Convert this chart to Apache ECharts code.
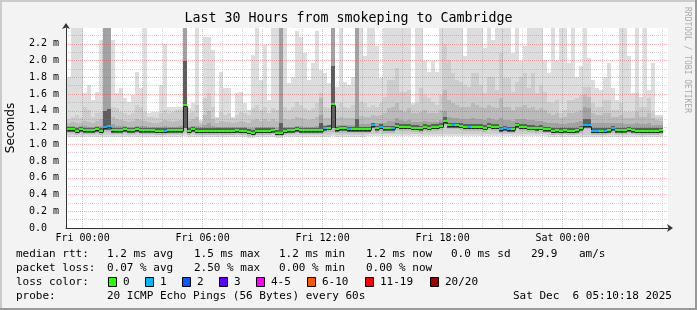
<!DOCTYPE html>
<html><head><meta charset="utf-8">
<script src="https://cdn.jsdelivr.net/npm/echarts@6/dist/echarts.min.js"></script>
<style>html,body{margin:0;padding:0;background:#f3f3f3}#c{width:697px;height:310px}</style>
</head><body><div id="c"></div>
<script>
// ---- time bins: 12-minute consolidated columns, hours relative to Fri 00:00 ----
const BIN_START = -0.8;   // Thu 23:12
const BIN_HOURS = 0.2;    // 12 min
// ---- median RTT per bin (ms) ----
const med = [1.18,1.18,1.16,1.18,1.17,1.17,1.17,1.18,1.16,1.21,
 1.22,1.17,1.17,1.17,1.18,1.17,1.17,1.18,1.17,1.17,
 1.17,1.17,1.16,1.16,1.16,1.17,1.17,1.17,1.17,1.47,
 1.16,1.18,1.16,1.16,1.16,1.16,1.16,1.16,1.16,1.16,
 1.16,1.16,1.17,1.16,1.16,1.15,1.14,1.16,1.16,1.16,
 1.16,1.17,1.14,1.14,1.16,1.17,1.17,1.18,1.17,1.17,
 1.17,1.17,1.17,1.17,1.19,1.20,1.48,1.18,1.19,1.19,
 1.18,1.18,1.18,1.18,1.18,1.18,1.23,1.19,1.21,1.19,
 1.19,1.19,1.22,1.21,1.21,1.21,1.20,1.20,1.19,1.21,
 1.20,1.21,1.21,1.22,1.28,1.23,1.23,1.23,1.22,1.21,
 1.21,1.21,1.21,1.21,1.20,1.22,1.21,1.21,1.18,1.19,
 1.18,1.18,1.23,1.21,1.21,1.20,1.20,1.19,1.20,1.18,
 1.18,1.16,1.17,1.16,1.17,1.16,1.16,1.17,1.19,1.23,
 1.23,1.16,1.16,1.16,1.16,1.17,1.19,1.17,1.17,1.17,
 1.18,1.17,1.16,1.16,1.16,1.16,1.16,1.16,1.17];
// ---- lost pings per bin (0 or 1) ----
const loss = [0,0,0,0,0,0,0,0,0,1, 1,0,0,0,0,0,0,0,0,0, 0,0,0,0,1,0,0,0,0,0,
 0,0,0,0,0,0,0,0,0,0, 0,0,0,0,0,0,0,0,0,0, 0,0,0,0,0,0,0,0,0,0,
 0,0,0,0,1,0,0,0,0,0, 1,0,0,0,0,0,1,0,1,0, 0,1,0,0,0,0,0,0,0,0,
 0,0,0,0,0,0,1,0,0,0, 1,0,0,0,0,0,0,0,1,1, 1,0,0,0,0,0,0,0,0,0,
 0,0,0,0,0,0,0,0,0,1, 1,1,1,0,1,0,1,0,0,0, 0,0,0,0,0,0,0,0,0];
// ---- smoke: upper edges of the bands (outer -> inner), ms ----
const t1 = [1.81,2.39,2.39,2.39,1.61,1.71,1.53,1.63,2.25,2.39,
 2.39,2.25,1.61,1.67,1.55,1.51,1.59,1.87,1.67,2.39,
 1.37,1.39,1.39,1.71,2.20,1.45,1.45,1.45,1.45,2.39,
 1.43,1.49,2.39,1.29,2.28,2.28,2.13,1.33,1.87,1.67,
 1.67,1.33,1.61,1.63,1.49,1.41,2.07,2.39,1.77,2.19,
 1.53,2.39,2.39,2.39,2.39,1.73,1.81,2.36,2.28,2.09,
 1.77,1.97,2.35,1.89,1.85,1.73,2.39,1.69,2.39,1.75,
 1.71,1.81,2.39,2.39,2.05,2.39,2.39,2.17,1.79,2.39,
 2.39,2.39,2.39,2.39,2.39,2.39,1.49,2.39,2.39,2.00,
 1.87,2.00,1.87,2.39,2.39,2.39,2.39,2.39,2.39,2.05,
 2.39,2.39,2.39,2.39,2.15,2.39,2.25,2.39,2.39,2.39,
 2.39,2.09,2.39,1.99,2.17,2.39,2.39,2.39,2.39,2.01,
 1.85,2.39,1.99,2.39,2.39,1.97,2.39,1.81,1.93,2.39,
 2.03,1.77,1.67,1.65,1.81,1.97,1.67,1.53,2.39,2.39,
 2.05,1.61,2.39,1.57,2.39,1.65,1.97,1.35,1.35];
const t2 = [1.30,1.33,1.35,1.31,1.45,1.41,1.33,1.37,1.39,2.39,
 2.39,1.45,1.43,1.39,1.37,1.35,1.37,1.47,1.45,1.39,
 1.33,1.33,1.31,1.37,1.41,1.37,1.39,1.41,1.41,2.39,
 1.37,1.39,1.47,1.27,1.55,1.61,1.45,1.31,1.39,1.35,
 1.37,1.31,1.35,1.39,1.37,1.35,1.43,1.47,1.41,1.45,
 1.37,1.43,1.41,2.39,1.45,1.41,1.45,1.51,1.47,1.43,
 1.41,1.43,1.49,1.61,1.45,1.43,2.39,1.43,1.49,1.45,
 1.43,1.47,2.39,1.51,1.49,1.45,1.47,1.45,1.49,1.57,
 1.77,1.77,1.91,1.63,1.63,1.65,1.47,1.49,1.67,1.59,
 1.55,1.51,1.47,1.59,2.20,2.01,1.85,1.77,1.75,1.71,
 1.69,1.85,1.85,1.71,1.61,1.81,1.81,1.65,2.09,1.79,
 1.79,1.63,1.75,1.81,1.85,1.67,1.85,1.61,1.71,1.63,
 1.51,1.49,1.53,1.37,1.41,1.53,1.53,1.55,1.59,1.69,
 1.69,1.49,1.45,1.45,1.53,1.53,1.41,1.41,1.49,1.39,
 1.39,1.39,1.61,1.45,1.45,1.55,1.39,1.33,1.33];
const t3 = [1.26,1.27,1.26,1.25,1.28,1.27,1.26,1.28,1.30,2.39,
 2.39,1.33,1.30,1.29,1.28,1.27,1.28,1.30,1.29,1.28,
 1.27,1.26,1.26,1.27,1.29,1.28,1.27,1.28,1.29,2.39,
 1.28,1.30,1.33,1.24,1.35,1.40,1.30,1.26,1.28,1.27,
 1.27,1.26,1.27,1.28,1.27,1.26,1.29,1.30,1.28,1.30,
 1.28,1.30,1.28,2.39,1.30,1.29,1.30,1.33,1.31,1.30,
 1.29,1.30,1.33,1.55,1.32,1.31,2.39,1.31,1.33,1.32,
 1.31,1.32,2.39,1.34,1.33,1.33,1.35,1.34,1.35,1.37,
 1.43,1.45,1.49,1.41,1.39,1.43,1.37,1.37,1.39,1.41,
 1.37,1.37,1.37,1.41,1.65,1.53,1.49,1.47,1.45,1.45,
 1.45,1.49,1.47,1.45,1.43,1.47,1.45,1.43,1.55,1.45,
 1.45,1.41,1.45,1.45,1.47,1.43,1.45,1.41,1.43,1.41,
 1.37,1.35,1.37,1.31,1.33,1.37,1.38,1.39,1.41,1.59,
 1.57,1.37,1.35,1.35,1.37,1.37,1.33,1.33,1.35,1.31,
 1.31,1.31,1.39,1.33,1.33,1.37,1.31,1.29,1.28];
const t4 = [1.22,1.22,1.21,1.22,1.22,1.21,1.21,1.22,1.22,2.39,
 2.39,1.24,1.22,1.22,1.22,1.21,1.21,1.22,1.22,1.22,
 1.21,1.21,1.21,1.21,1.22,1.21,1.21,1.21,1.22,2.39,
 1.21,1.22,1.22,1.21,1.23,1.25,1.22,1.21,1.21,1.21,
 1.21,1.21,1.21,1.21,1.21,1.20,1.20,1.21,1.21,1.21,
 1.21,1.21,1.20,2.39,1.21,1.21,1.21,1.22,1.22,1.21,
 1.21,1.21,1.22,1.35,1.23,1.23,2.39,1.23,1.23,1.23,
 1.23,1.23,2.39,1.24,1.24,1.24,1.26,1.25,1.26,1.26,
 1.28,1.28,1.31,1.29,1.28,1.29,1.27,1.27,1.27,1.28,
 1.27,1.27,1.27,1.29,1.40,1.33,1.32,1.31,1.30,1.30,
 1.30,1.31,1.30,1.30,1.29,1.31,1.30,1.29,1.32,1.29,
 1.29,1.28,1.30,1.30,1.30,1.29,1.29,1.28,1.28,1.27,
 1.26,1.25,1.25,1.24,1.24,1.25,1.26,1.27,1.28,1.45,
 1.43,1.26,1.25,1.25,1.26,1.26,1.25,1.25,1.25,1.24,
 1.24,1.24,1.26,1.24,1.24,1.25,1.23,1.23,1.23];
const t5 = [1.21,1.21,1.19,1.21,1.20,1.20,1.20,1.21,1.19,1.40,
 1.42,1.20,1.20,1.20,1.21,1.20,1.20,1.21,1.20,1.20,
 1.20,1.20,1.19,1.19,1.19,1.20,1.20,1.20,1.20,2.00,
 1.19,1.21,1.19,1.19,1.19,1.19,1.19,1.19,1.19,1.19,
 1.19,1.19,1.20,1.19,1.19,1.18,1.17,1.19,1.19,1.19,
 1.19,1.20,1.17,1.25,1.19,1.20,1.20,1.21,1.20,1.20,
 1.20,1.20,1.20,1.25,1.22,1.23,1.93,1.21,1.22,1.22,
 1.21,1.21,1.30,1.21,1.21,1.21,1.26,1.22,1.24,1.22,
 1.22,1.22,1.25,1.24,1.24,1.24,1.23,1.23,1.22,1.24,
 1.23,1.24,1.24,1.25,1.33,1.26,1.26,1.26,1.25,1.24,
 1.24,1.24,1.24,1.24,1.23,1.25,1.24,1.24,1.21,1.22,
 1.21,1.21,1.26,1.24,1.24,1.23,1.23,1.22,1.23,1.21,
 1.21,1.19,1.20,1.19,1.20,1.19,1.19,1.20,1.22,1.30,
 1.30,1.19,1.19,1.19,1.19,1.20,1.22,1.20,1.20,1.20,
 1.21,1.20,1.19,1.19,1.19,1.19,1.19,1.19,1.20];
// ---- smoke: lower edges of the bands (outer -> inner), ms ----
const lo1 = [1.09,1.09,1.09,1.09,1.09,1.09,1.09,1.09,1.09,1.09,
 1.09,1.09,1.09,1.09,1.09,1.09,1.09,1.09,1.09,1.09,
 1.09,1.09,1.09,1.09,1.09,1.09,1.09,1.09,1.09,1.10,
 1.09,1.09,1.09,1.09,1.09,1.09,1.09,1.09,1.09,1.09,
 1.09,1.09,1.09,1.09,1.09,1.08,1.08,1.09,1.09,1.09,
 1.09,1.09,1.08,1.08,1.09,1.09,1.09,1.09,1.09,1.09,
 1.09,1.09,1.09,1.09,1.09,1.09,1.10,1.09,1.09,1.09,
 1.09,1.09,1.09,1.09,1.09,1.10,1.10,1.10,1.10,1.10,
 1.10,1.10,1.10,1.10,1.10,1.10,1.10,1.10,1.10,1.10,
 1.10,1.10,1.10,1.10,1.10,1.10,1.10,1.10,1.10,1.10,
 1.10,1.10,1.10,1.10,1.10,1.10,1.10,1.10,1.10,1.10,
 1.10,1.10,1.10,1.10,1.10,1.10,1.10,1.10,1.10,1.10,
 1.09,1.09,1.09,1.09,1.09,1.09,1.09,1.09,1.09,1.09,
 1.09,1.09,1.09,1.09,1.09,1.09,1.09,1.09,1.09,1.09,
 1.09,1.09,1.09,1.09,1.09,1.09,1.09,1.09,1.09];
const lo2 = [1.11,1.11,1.11,1.11,1.11,1.11,1.11,1.11,1.11,1.11,
 1.11,1.11,1.11,1.11,1.11,1.11,1.11,1.11,1.11,1.11,
 1.11,1.11,1.11,1.11,1.11,1.11,1.11,1.11,1.11,1.12,
 1.11,1.11,1.11,1.11,1.11,1.11,1.11,1.11,1.11,1.11,
 1.11,1.11,1.11,1.11,1.11,1.10,1.10,1.11,1.11,1.11,
 1.11,1.11,1.10,1.10,1.11,1.11,1.11,1.11,1.11,1.11,
 1.11,1.11,1.11,1.11,1.11,1.11,1.12,1.11,1.11,1.11,
 1.11,1.11,1.11,1.11,1.11,1.12,1.12,1.12,1.12,1.12,
 1.12,1.12,1.12,1.12,1.12,1.12,1.12,1.12,1.12,1.12,
 1.12,1.12,1.12,1.12,1.12,1.12,1.12,1.12,1.12,1.12,
 1.12,1.12,1.12,1.12,1.12,1.12,1.12,1.12,1.12,1.12,
 1.12,1.12,1.12,1.12,1.12,1.12,1.12,1.12,1.12,1.12,
 1.11,1.11,1.11,1.11,1.11,1.11,1.11,1.11,1.11,1.11,
 1.11,1.11,1.11,1.11,1.11,1.11,1.11,1.11,1.11,1.11,
 1.11,1.11,1.11,1.11,1.11,1.11,1.11,1.11,1.11];
const lo3 = [1.13,1.13,1.11,1.13,1.12,1.12,1.12,1.13,1.11,1.15,
 1.15,1.12,1.12,1.12,1.13,1.12,1.12,1.13,1.12,1.12,
 1.12,1.12,1.11,1.11,1.11,1.12,1.12,1.12,1.12,1.15,
 1.11,1.13,1.11,1.11,1.11,1.11,1.11,1.11,1.11,1.11,
 1.11,1.11,1.12,1.11,1.11,1.10,1.10,1.11,1.11,1.11,
 1.11,1.12,1.10,1.10,1.11,1.12,1.12,1.13,1.12,1.12,
 1.12,1.12,1.12,1.12,1.14,1.15,1.15,1.13,1.14,1.14,
 1.13,1.13,1.13,1.13,1.13,1.13,1.17,1.14,1.16,1.14,
 1.14,1.14,1.17,1.16,1.16,1.16,1.15,1.15,1.14,1.16,
 1.15,1.16,1.16,1.17,1.22,1.18,1.18,1.18,1.17,1.16,
 1.16,1.16,1.16,1.16,1.15,1.17,1.16,1.16,1.13,1.14,
 1.13,1.13,1.18,1.16,1.16,1.15,1.15,1.14,1.15,1.13,
 1.13,1.11,1.12,1.11,1.12,1.11,1.11,1.12,1.14,1.18,
 1.18,1.11,1.11,1.11,1.11,1.12,1.14,1.12,1.12,1.12,
 1.13,1.12,1.11,1.11,1.11,1.11,1.11,1.11,1.12];
const lo4 = [1.15,1.15,1.13,1.15,1.14,1.14,1.14,1.15,1.13,1.17,
 1.17,1.14,1.14,1.14,1.15,1.14,1.14,1.15,1.14,1.14,
 1.14,1.14,1.13,1.13,1.13,1.14,1.14,1.14,1.14,1.19,
 1.13,1.15,1.13,1.13,1.13,1.13,1.13,1.13,1.13,1.13,
 1.13,1.13,1.14,1.13,1.13,1.12,1.11,1.13,1.13,1.13,
 1.13,1.14,1.11,1.11,1.13,1.14,1.14,1.15,1.14,1.14,
 1.14,1.14,1.14,1.14,1.16,1.17,1.19,1.15,1.16,1.16,
 1.15,1.15,1.15,1.15,1.15,1.15,1.19,1.16,1.18,1.16,
 1.16,1.16,1.19,1.18,1.18,1.18,1.17,1.17,1.16,1.18,
 1.17,1.18,1.18,1.19,1.24,1.20,1.20,1.20,1.19,1.18,
 1.18,1.18,1.18,1.18,1.17,1.19,1.18,1.18,1.15,1.16,
 1.15,1.15,1.20,1.18,1.18,1.17,1.17,1.16,1.17,1.15,
 1.15,1.13,1.14,1.13,1.14,1.13,1.13,1.14,1.16,1.20,
 1.20,1.13,1.13,1.13,1.13,1.14,1.16,1.14,1.14,1.14,
 1.15,1.14,1.13,1.13,1.13,1.13,1.13,1.13,1.14];
// ---- axis ticks ----
const xTickHours = [0, 6, 12, 18, 24];
const xTickLabels = ['Fri 00:00', 'Fri 06:00', 'Fri 12:00', 'Fri 18:00', 'Sat 00:00'];
const gridHours = [0,1,2,3,4,5,6,7,8,9,10,11,12,13,14,15,16,17,18,19,20,21,22,23,24,25,26,27,28,29];
const X_MIN = -0.828, X_MAX = 29.272;
const Y_MAX = 2.39;

const BAND_COLORS = ['#dddddd', '#cdcdcd', '#bababa', '#a2a2a2', '#5e5e5e'];
const LOSS_COLORS = ['#26ff00', '#00b8ff', '#0059ff', '#5e00ff', '#ff00ff', '#ff5500', '#ff0000', '#a10000'];
const MAJOR = 'rgba(255,0,0,0.3)';
const MINOR = 'rgba(128,128,128,0.35)';
const MONO = "'DejaVu Sans Mono', monospace";

const smokeData = med.map((m, k) => {
  const a = BIN_START + k * BIN_HOURS;
  return [a, a + BIN_HOURS, lo1[k], lo2[k], lo3[k], lo4[k], lo4[k], t1[k], t2[k], t3[k], t4[k], t5[k]];
});
const medData = med.map((m, k) => {
  const a = BIN_START + k * BIN_HOURS;
  return [a, a + BIN_HOURS, m, k > 0 ? med[k - 1] : m, loss[k]];
});

function smokeItem(params, api) {
  const xa = Math.round(api.coord([api.value(0), 0])[0]);
  const xb = Math.round(api.coord([api.value(1), 0])[0]);
  const Y = v => Math.round(api.coord([0, Math.min(v, Y_MAX)])[1]);
  const children = [];
  for (let b = 0; b < 5; b++) {
    const yl = Y(api.value(2 + b)), yh = Y(api.value(7 + b));
    if (yl > yh) children.push({type: 'rect', shape: {x: xa, y: yh, width: xb - xa, height: yl - yh},
      style: {fill: BAND_COLORS[b]}});
  }
  return {type: 'group', children};
}
function medItem(params, api) {
  const xa = Math.round(api.coord([api.value(0), 0])[0]);
  const xb = Math.round(api.coord([api.value(1), 0])[0]);
  const y = Math.round(api.coord([0, api.value(2)])[1]);
  const yp = Math.round(api.coord([0, api.value(3)])[1]);
  return {type: 'group', children: [
    {type: 'polyline', shape: {points: [[xa + 0.5, yp + 1.5], [xa + 0.5, y + 1.5], [xb, y + 1.5]]},
      style: {stroke: '#222', lineWidth: 1, fill: null}},
    {type: 'rect', shape: {x: xa, y: y - 1, width: xb - xa, height: 2}, style: {fill: LOSS_COLORS[api.value(4)]}}
  ]};
}
function vgridItem(params, api) {
  const h = api.value(0);
  const p0 = api.coord([h, 0]), p1 = api.coord([h, Y_MAX]);
  const x = Math.floor(p0[0]) + 0.5;
  return {type: 'line', shape: {x1: x, y1: p0[1], x2: x, y2: p1[1]},
    style: {stroke: h % 3 === 0 ? MAJOR : MINOR, lineWidth: 1, lineDash: [1, 1]}};
}

const chart = echarts.init(document.getElementById('c'), null, {renderer: 'canvas'});
const txt = (x, y, s, extra) => Object.assign({type: 'text', x, y,
  style: {text: s, font: '11px ' + MONO, fill: '#000', verticalAlign: 'middle'}}, extra || {});
const box = (x, y, c) => ({type: 'rect', shape: {x: x + 0.5, y: y + 0.5, width: 8, height: 9},
  style: {fill: c, stroke: '#000', lineWidth: 1}});

const graphics = [
  {type: 'rect', shape: {x: 0, y: 0, width: 697, height: 2}, style: {fill: '#cbcbcb'}, silent: true},
  {type: 'rect', shape: {x: 0, y: 0, width: 2, height: 310}, style: {fill: '#cbcbcb'}, silent: true},
  {type: 'rect', shape: {x: 0, y: 308, width: 697, height: 2}, style: {fill: '#999999'}, silent: true},
  {type: 'rect', shape: {x: 695, y: 0, width: 2, height: 310}, style: {fill: '#999999'}, silent: true},
  {type: 'text', x: 687, y: 60, rotation: -Math.PI / 2,
    style: {text: 'RRDTOOL / TOBI OETIKER', font: '8px ' + MONO, fill: '#aaaaaa', align: 'center', verticalAlign: 'middle'}},
  txt(16, 254, 'median rtt:'), txt(107, 254, '1.2 ms avg'), txt(194, 254, '1.5 ms max'),
  txt(279, 254, '1.2 ms min'), txt(366, 254, '1.2 ms now'), txt(451, 254, '0.0 ms sd'),
  txt(531, 254, '29.9'), txt(579, 254, 'am/s'),
  txt(16, 268, 'packet loss:'), txt(107, 268, '0.07 % avg'), txt(194, 268, '2.50 % max'),
  txt(279, 268, '0.00 % min'), txt(366, 268, '0.00 % now'),
  txt(16, 282, 'loss color:'),
  box(108, 277, LOSS_COLORS[0]), txt(123, 282, '0'),
  box(145, 277, LOSS_COLORS[1]), txt(160, 282, '1'),
  box(182, 277, LOSS_COLORS[2]), txt(197, 282, '2'),
  box(219, 277, LOSS_COLORS[3]), txt(234, 282, '3'),
  box(256, 277, LOSS_COLORS[4]), txt(271, 282, '4-5'),
  box(307, 277, LOSS_COLORS[5]), txt(322, 282, '6-10'),
  box(365, 277, LOSS_COLORS[6]), txt(380, 282, '11-19'),
  box(430, 277, LOSS_COLORS[7]), txt(445, 282, '20/20'),
  txt(16, 296, 'probe:'), txt(107, 296, '20 ICMP Echo Pings (56 Bytes) every 60s'),
  txt(513, 296, 'Sat Dec  6 05:10:18 2025')
];

chart.setOption({
  animation: false,
  backgroundColor: '#f3f3f3',
  title: {text: 'Last 30 Hours from smokeping to Cambridge', left: 'center', top: 12, padding: 0,
    textStyle: {fontFamily: MONO, fontSize: 13.3, fontWeight: 'normal', color: '#000'}},
  grid: {left: 66, top: 28, width: 602, height: 200, show: true, backgroundColor: '#ffffff', borderWidth: 0,
    containLabel: false, outerBoundsMode: 'none'},
  xAxis: {
    type: 'value', min: X_MIN, max: X_MAX, z: 6,
    axisLine: {show: true, onZero: false, lineStyle: {color: '#333333', width: 1},
      symbol: ['none', 'arrow'], symbolSize: [6, 6], symbolOffset: [0, 5]},
    axisTick: {show: false},
    splitLine: {show: false},
    axisLabel: {customValues: xTickHours, margin: 5, fontFamily: MONO, fontSize: 10, color: '#000',
      formatter: v => { const i = xTickHours.indexOf(v); return i >= 0 ? xTickLabels[i] : ''; }}
  },
  yAxis: {
    type: 'value', min: 0, max: Y_MAX, interval: 0.2, z: 3,
    name: 'Seconds', nameLocation: 'middle', nameGap: 49, nameRotate: 90,
    nameTextStyle: {fontFamily: "'DejaVu Sans', sans-serif", fontSize: 12, color: '#000'},
    axisLine: {show: true, onZero: false, lineStyle: {color: '#333333', width: 1},
      symbol: ['none', 'arrow'], symbolSize: [6, 6], symbolOffset: [0, 5]},
    axisTick: {show: false},
    axisLabel: {showMaxLabel: false, margin: 7, fontFamily: MONO, fontSize: 10, color: '#000',
      formatter: v => v === 0 ? '0.0  ' : v.toFixed(1) + ' m'},
    splitLine: {show: true, showMaxLine: false, lineStyle: {color: MAJOR, type: [1, 1], width: 1}},
    minorTick: {show: false, splitNumber: 2},
    minorSplitLine: {show: true, lineStyle: {color: MINOR, type: [1, 1], width: 1}}
  },
  series: [
    {type: 'custom', name: 'smoke', z: 2, silent: true, renderItem: smokeItem, data: smokeData,
      encode: {x: [0, 1], y: [2, 7]}},
    {type: 'custom', name: 'vgrid', z: 3, silent: true, renderItem: vgridItem, data: gridHours.map(h => [h]),
      encode: {x: 0}},
    {type: 'custom', name: 'median', z: 5, silent: true, renderItem: medItem, data: medData,
      encode: {x: [0, 1], y: 2}}
  ],
  graphic: graphics
});
</script>
</body></html>
